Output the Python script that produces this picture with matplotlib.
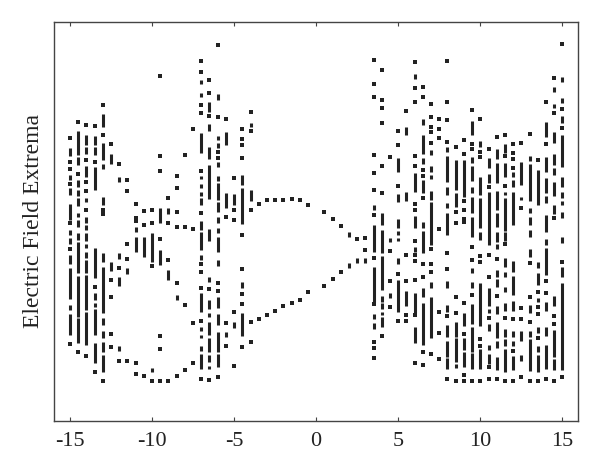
import matplotlib
matplotlib.use("Agg")
import matplotlib.pyplot as plt

plt.rcParams['font.family'] = ['Liberation Serif', 'DejaVu Serif']
plt.rcParams['axes.unicode_minus'] = False

# Each reading: (high, low) stretch of extrema, or a single extremum value.
c_m150 = [282.7,(272.7,265),259,252,(246,241),236.7,(232.7,226),(217,201),198,(191,186),(182.7,177),171.7,(166,157),(152.7,121.7),(116,111),(106.7,86),77]
c_m145 = [299.3,(290.3,266),(264,256),247,(241,233.7),(231,225.3),(222.7,215.3),(207.7,204.3),(201,193.7),(187.7,181),(179.3,147.7),(145,104.3),(102.7,77.7),69]
c_m140 = [296,(286,276),(273.7,267),261,(255.3,244.3),238.7,230,(222.7,219.3),211,(204.3,197.7),(196,191),(187.7,180.3),(177,172.7),(169.3,162.7),(161,147.7),(146,111),(109.3,76),65.3]
c_m135 = [295.3,(285,276),(273.7,266),259.3,(253.7,231),(172.7,142.7),134.3,(128.3,121),(118.3,113.7),(111.7,86),(77.7,58.3),48.7]
c_m130 = [316,(307,293.7),286,(278.3,261),(257,252),(223.7,216),211,206.7,(167.7,159.3),(153.7,108.3),(102.7,96),(90.3,82.7),(78.7,69.3),(66,48.7),39.7]
c_m125 = [276.7,(267,256.7),(159.3,150),141,123.7,86.7,74.3]
c_m120 = [257.3,(244.3,238.7),(167.7,162),153.3,(144.3,135.3),(75,70.3),60.3]
c_m115 = [241.3,229.7,177,162,(152.7,147),60]
c_m110 = [217.3,202.7,200,(194.3,189.3),(184.3,169.3),58.3,47.3]
c_m105 = [210,195.7,(184.3,164.3),45]
c_m100 = [211,197.7,(187.7,159.3),155,(52.7,49.3),39.7]
c_m095 = [345,265,250,(212.7,198),181.7,(171,156),84.7,72,39.7]
c_m090 = [222.7,(212.7,207),197.7,161,(151,141),40.3]
c_m085 = [244.7,233.3,209,194.3,137.7,(126,121),45]
c_m080 = [265.7,194.3,116,51]
c_m075 = [291.7,191.7,98.3,57.7]
c_m070 = [360,349,(341,336.7),(327.7,324.3),316,308,(287.7,267.7),250.3,(245.3,242),(237,232.7),(229.3,225.3),(222.7,216),208,(200,191),(189.3,171),(166,161),156.7,149.3,133.3,(127.7,108.7),100,(94.3,90.3),(86,82.7),(75,70.3),(67,51.7),42.3]
c_m065 = [341,328.3,(319.3,309.3),304.7,(296.7,290.3),(274.3,261.7),(256,222),(191.7,180.3),(143.7,138.7),131.7,(121,111.7),(108.3,104.3),(99.3,86),(82.7,68.7),(66,58.7),(55.3,52),41]
c_m060 = [376.3,(326.7,321),304,(285.3,281),(277.7,272.7),269.3,263.3,(258.7,254.3),(245.3,240),(238.3,221),(218.7,208.7),(204.3,197.7),(192.7,188.3),(184.3,168.7),(161,155.3),137.7,129.7,(123.7,112.7),(107,96),(89.3,69.3),(67,54.3),44]
c_m055 = [301.7,(288.7,276),(227.7,212.7),203.7,98.3,(88.7,84.3),75.3]
c_m050 = [243,(226.7,216),211.3,201,108.7,(98.7,93.3),55]
c_m045 = [292.3,282,276.3,262.7,(246,236),(232.7,197),186.3,151.7,(138.7,132.7),127,116.7,(107.7,85),74.3]
c_m040 = [309,(298.3,294.3),290,(231,220),211,99,79]
c_m035 = [216.7,102]
c_m030 = [221,106]
c_m025 = [221,110]
c_m020 = [221.3,115]
c_m015 = [222.3,118.3]
c_m010 = [220.7,121.3]
c_m005 = [215.7,128.7]
c_p005 = [208.7,135.3]
c_p010 = [202,142.3]
c_p015 = [195,148.7]
c_p020 = [(189.3,184.3),(157.7,153.3)]
c_p025 = [181.7,(162.7,157.7)]
c_p030 = [183.3,171,(162.7,157.7)]
c_p035 = [361.3,336.7,324,266.3,248,231,(216,211),206,(196,169.3),162.7,(153.7,119.3),116.7,(107,101.7),(97.7,91.7),79,73.3,63]
c_p040 = [350.7,321.3,313,297.7,255.3,227.7,(208.3,196),(191,167.7),(165,131),(125,119.3),(117.7,111.7),(108.7,106),(103.7,94.3),85]
c_p045 = [264.3,(182.7,179.3),169.7,139.7,(127.7,122.7),114.3]
c_p050 = [290.3,276.3,(262.7,249.3),235.3,(227,219.3),(202.3,192.7),(190.3,186),(182.7,180.3),(162.7,157),147,(141,109.3),100]
c_p055 = [309.7,(294.3,286),(228.7,220.3),166,139.7,(130.3,115),106,100]
c_p060 = [359.3,(347,342),332.7,319,265.3,254.7,(247.7,228.7),217,211,(205,192.7),180.3,(174.3,169.3),166,160,141,(128.3,107.7),106,(93.7,78.3),58]
c_p065 = [334.3,323.7,(301.7,296),(286,267),(262.7,257),251,245.3,(241,227.7),222.7,(199,192.7),(190.3,167.7),157,144.3,(133.3,123.7),(118.3,76),68.7,56]
c_p070 = [317,304,294.3,289.3,278.3,(271,266),(255,249.3),(246,241.7),(230.3,221),(219.3,176),171.7,156.7,149.3,(139.3,132.7),(124.3,82.7),67.3]
c_p075 = [302.3,291.7,283.3,191.7,109.3,87.7,62]
c_p080 = [360.3,318.7,301,279.3,(274.3,269.3),(265,239.3),(234.3,226),(217.7,212.7),(207.7,186),167.7,152.3,(140,133.3),(116,109.3),105,(96,84.3),(80.3,64.3),(62.7,52),42.3]
c_p085 = [274,(261,231),(227.7,214.3),209.3,197.7,123.7,107.7,(99.3,84.3),(82.7,59.3),(57,52.7),40]
c_p090 = [281,267,(261,224.3),220.3,211,201.7,199.3,117.7,(107.7,95),87,(82.7,71),(69.3,54.3),45.7,40]
c_p095 = [310.7,(300.3,286),277.3,271.7,(264.3,257.7),(255.3,240.3),(234.3,227.7),(224.3,207.7),(204.3,184.3),174.3,161,(153.3,147.7),(139.3,132.7),126,(116.7,97),(94.3,69.3),(67.7,52),40]
c_p100 = [302,(280.3,273.7),269.3,263.7,(243.7,226),(222.7,192.7),(189.3,181),165.3,158.7,(137.7,95),81.7,75.3,(71.7,52),39.7]
c_p105 = [272,(262.7,252.7),(247,238.3),234.3,(228.7,176),166,143.7,(133.3,115),(111.7,108.3),103.3,(97,90.3),(76,71),(66.7,57),54.3,41.7]
c_p110 = [283.7,(272,262),(257.7,237.7),(230,211),(207.7,194.3),(189.3,179.3),(177,171.7),162,(151,143.7),(141.7,134.3),125,(115,106.7),(98.7,82.7),(80.3,73.3),(63.7,51),42.3]
c_p115 = [286.3,(276.7,268.3),265,(257.7,244.3),235.3,(229.3,226),(222.7,190.3),(189.3,180.3),176.7,(162.7,153.7),(149.3,143.7),(134.3,128.7),(117.7,110.3),102.7,(91.7,84.3),(81.7,75),(71.7,48.7),40.3]
c_p120 = [277.3,268.3,261.7,253.3,(249.3,244.3),(241,234.3),(229.3,196),(160,148.7),(145,126),(120,110.3),102,(90.3,84.3),(80.3,75),70.3,(65,51),40.3]
c_p125 = [278.3,(258.7,236),(224.3,221),212.7,112.7,102,(90.3,80.3),(66,60.3),44.3]
c_p130 = [286.7,(265,260.3),(256.7,220.3),(213.3,207.7),(204.3,196),(191,184.3),(171.7,164.3),157.7,123.7,(116,108.3),98.7,(90.3,83.7),(81.7,50.3),39.7]
c_p135 = [261,(251,216),(159.3,152.7),(147.7,136),129.3,(122.7,118.7),113.7,106.7,(94.3,87.7),82.7,(75.3,69.3),(66,48.7),39.7]
c_p140 = [318.7,(298.7,283.7),277.3,(264.3,249.3),(242.7,227.7),(225.3,217.7),(206,189.3),(181.7,176),(172.7,146),140,128.3,(119.3,110.3),(93.7,85.3),(76,52),42]
c_p145 = [343.3,(333.7,329.3),(317,312.7),307.7,(289.3,278.3),(267,256),(252.7,246),(239.3,225),(216,206.7),202.7,(125,115),105.3,97,(91,64.3),(61.7,51),40.3]
c_p150 = [376.7,(344.3,339.3),(322.7,318.3),311.7,(305,298.3),293,(286,254.3),(243.7,233.7),(228.7,223.3),(220.3,216),(208.7,203.3),(184.3,177.7),159.3,(154.3,144.3),(138.3,51),44]

parameter = [-15,-14.5,-14,-13.5,-13,-12.5,-12,-11.5,-11,-10.5,-10,-9.5,-9,-8.5,-8,-7.5,-7,-6.5,-6,-5.5,-5,-4.5,-4,
             -3.5,-3,-2.5,-2,-1.5,-1,-0.5,0.5,1,1.5,2,2.5,3,3.5,4,4.5,5,5.5,6,6.5,7,7.5,8,8.5,9,9.5,10,10.5,11,11.5,12,12.5,13,13.5,14,14.5,15]
columns = [c_m150,c_m145,c_m140,c_m135,c_m130,c_m125,c_m120,c_m115,c_m110,c_m105,c_m100,c_m095,c_m090,c_m085,c_m080,c_m075,c_m070,c_m065,c_m060,c_m055,c_m050,c_m045,c_m040,
           c_m035,c_m030,c_m025,c_m020,c_m015,c_m010,c_m005,c_p005,c_p010,c_p015,c_p020,c_p025,c_p030,c_p035,c_p040,c_p045,c_p050,c_p055,c_p060,c_p065,c_p070,c_p075,c_p080,c_p085,c_p090,c_p095,c_p100,c_p105,c_p110,c_p115,c_p120,c_p125,c_p130,c_p135,c_p140,c_p145,c_p150]
x_ticks = [-15,-10,-5,0,5,10,15]
x_range = (-15.97, 15.95)
y_range = (0, 399.5)
y_label = "Electric Field Extrema"

fig = plt.figure(figsize=(6, 4.7), dpi=100)
ax = fig.add_axes([54/600, 1-421/470, 524/600, 399.5/470])
ink = '#222222'
for x, col in zip(parameter, columns):
    for item in col:
        if isinstance(item, tuple):
            ax.vlines(x, item[1], item[0], color=ink, lw=2.2, zorder=3)
        else:
            ax.plot([x], [item], marker='s', ms=2.7, mew=0, color=ink, zorder=3, snap=False)

ax.set_xlim(*x_range)
ax.set_ylim(*y_range)
ax.set_xticks(x_ticks)
ax.set_xticklabels([str(t) for t in x_ticks])
ax.set_yticks([])
ax.tick_params(axis='x', direction='in', top=True, length=3, width=0.8, color='#444444',
               labelsize=16, pad=8, labelcolor='#222222')
for s in ax.spines.values():
    s.set_linewidth(1.0)
    s.set_color('#444444')
ax.set_ylabel(y_label, fontsize=17, color='#222222', labelpad=7)
fig.savefig('out.png', dpi=100, facecolor='white')
